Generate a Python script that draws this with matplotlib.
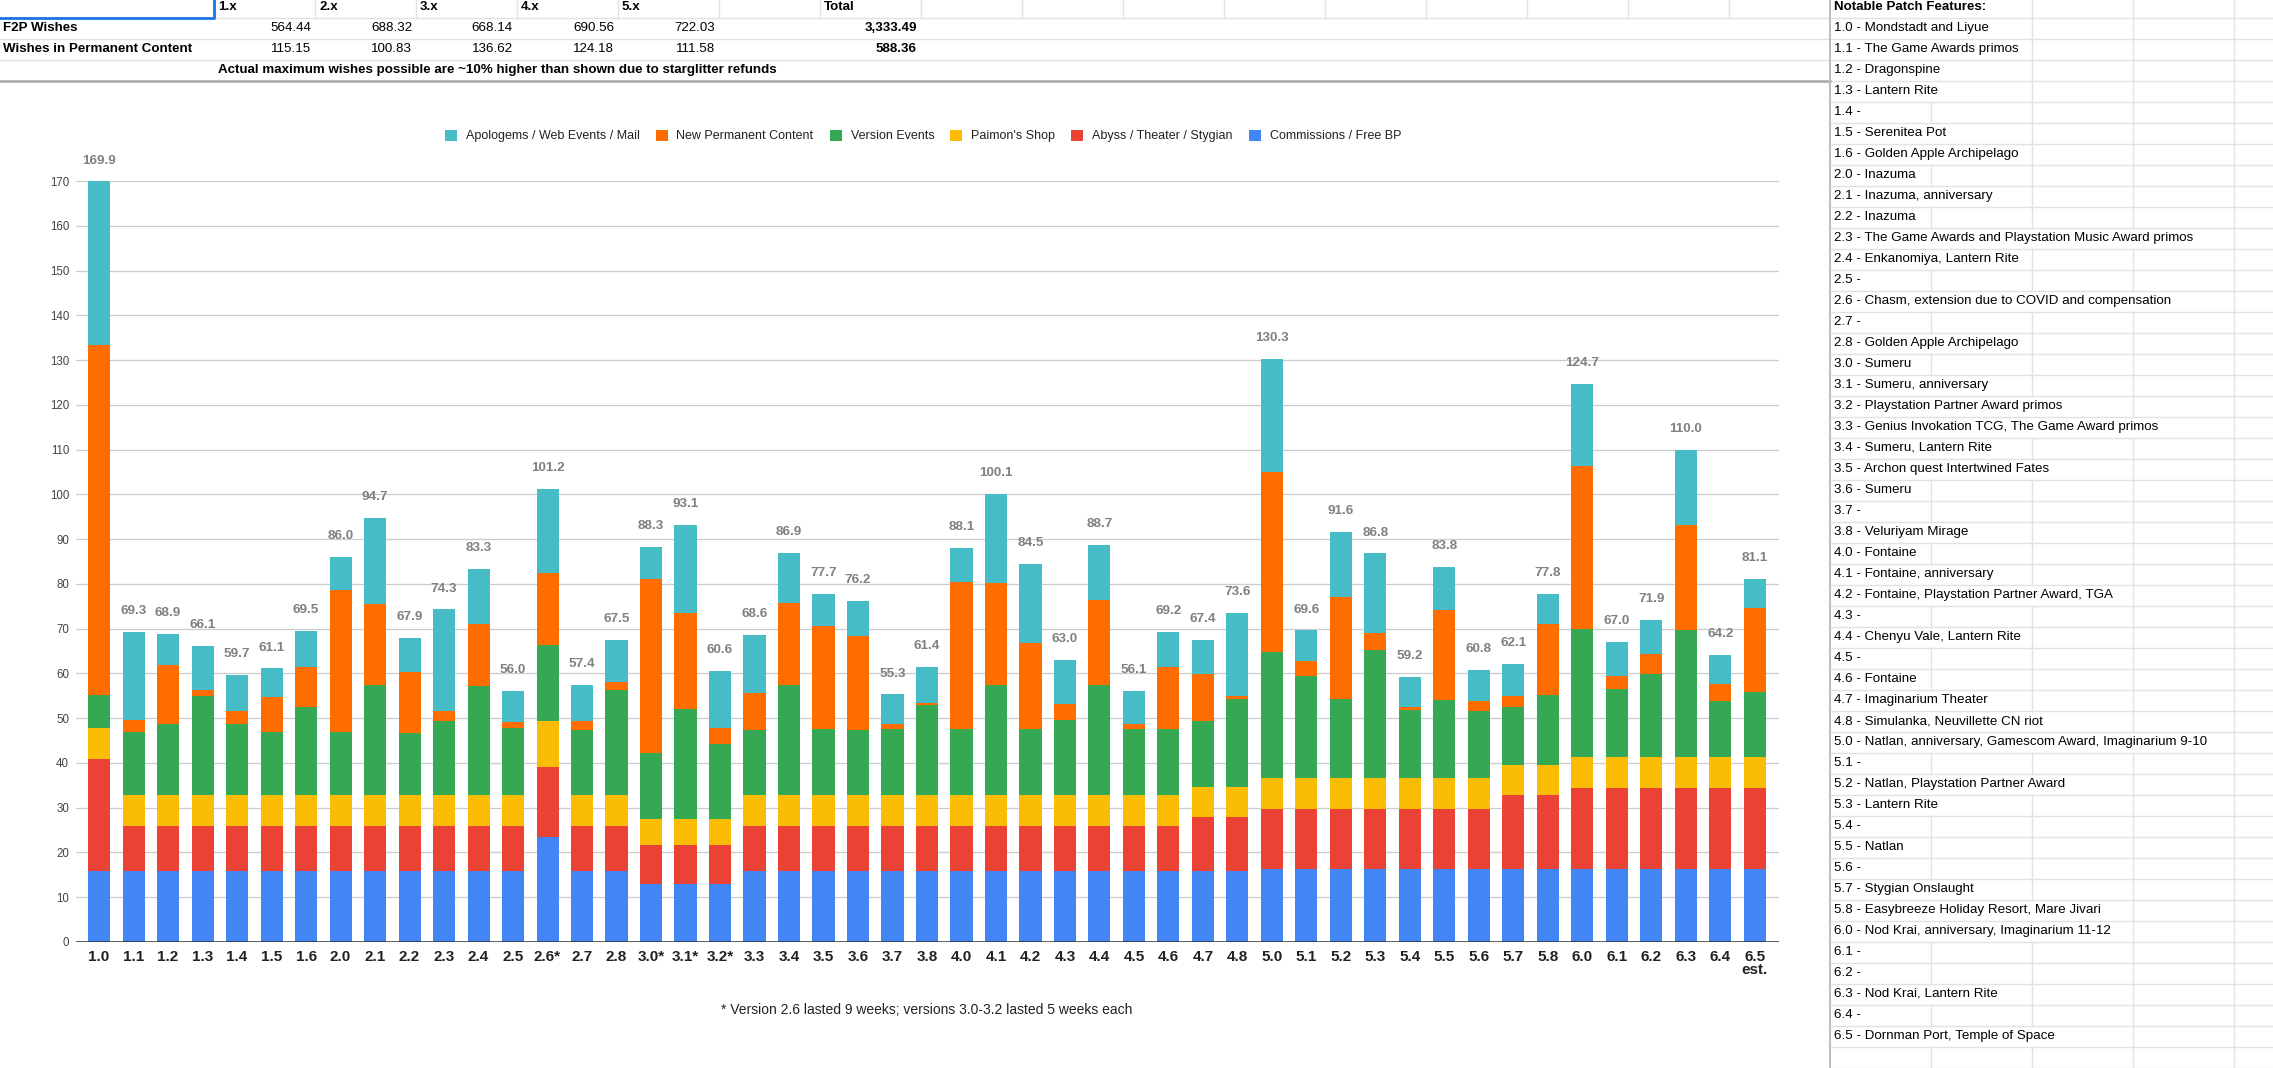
import matplotlib
matplotlib.use('Agg')
import matplotlib.pyplot as plt
from matplotlib.patches import Rectangle

plt.rcParams['font.family'] = ['Liberation Sans', 'DejaVu Sans']

# ---- chart data (wishes per version, stacked bottom -> top) ----
versions = ['1.0', '1.1', '1.2', '1.3', '1.4', '1.5', '1.6',
            '2.0', '2.1', '2.2', '2.3', '2.4', '2.5', '2.6*', '2.7', '2.8',
            '3.0*', '3.1*', '3.2*', '3.3', '3.4', '3.5', '3.6', '3.7', '3.8',
            '4.0', '4.1', '4.2', '4.3', '4.4', '4.5', '4.6', '4.7', '4.8',
            '5.0', '5.1', '5.2', '5.3', '5.4', '5.5', '5.6', '5.7', '5.8',
            '6.0', '6.1', '6.2', '6.3', '6.4', '6.5\nest.']

commissions = [15.75, 15.75, 15.75, 15.75, 15.75, 15.75, 15.75,
               15.75, 15.75, 15.75, 15.75, 15.75, 15.75, 23.4, 15.75, 15.75,
               13.0, 13.0, 13.0, 15.75, 15.75, 15.75, 15.75, 15.75, 15.75,
               15.75, 15.75, 15.75, 15.75, 15.75, 15.75, 15.75, 15.75, 15.75,
               16.2, 16.2, 16.2, 16.2, 16.2, 16.2, 16.2, 16.2, 16.2,
               16.2, 16.2, 16.2, 16.2, 16.2, 16.2]
abyss = [25.1, 10.1, 10.1, 10.1, 10.1, 10.1, 10.1,
         10.1, 10.1, 10.1, 10.1, 10.1, 10.1, 15.6, 10.1, 10.1,
         8.7, 8.7, 8.7, 10.1, 10.1, 10.1, 10.1, 10.1, 10.1,
         10.1, 10.1, 10.1, 10.1, 10.1, 10.1, 10.1, 12.15, 12.15,
         13.6, 13.6, 13.6, 13.6, 13.6, 13.6, 13.6, 16.6, 16.6,
         18.2, 18.2, 18.2, 18.2, 18.2, 18.2]
shop = [6.9, 7.0, 7.0, 7.0, 7.0, 7.0, 7.0,
        7.0, 7.0, 7.0, 7.0, 7.0, 7.0, 10.3, 7.0, 7.0,
        5.7, 5.7, 5.7, 7.0, 7.0, 7.0, 7.0, 7.0, 7.0,
        7.0, 7.0, 7.0, 7.0, 7.0, 7.0, 7.0, 6.8, 6.8,
        6.9, 6.9, 6.9, 6.9, 6.9, 6.9, 6.9, 6.7, 6.7,
        6.9, 6.9, 6.9, 6.9, 6.9, 6.9]
events = [7.45, 14.05, 15.85, 22.05, 15.95, 14.15, 19.55,
          14.15, 24.45, 13.75, 16.45, 24.25, 15.05, 17.0, 14.45, 23.35,
          14.8, 24.6, 16.8, 14.45, 24.45, 14.65, 14.45, 14.65, 20.05,
          14.65, 24.45, 14.65, 16.75, 24.45, 14.65, 14.65, 14.6, 19.6,
          28.0, 22.8, 17.6, 28.5, 15.2, 17.3, 14.9, 13.1, 15.7,
          28.6, 15.2, 18.5, 28.4, 12.6, 14.6]
permanent = [78.1, 2.8, 13.1, 1.5, 2.7, 7.7, 9.1,
             31.7, 18.1, 13.7, 2.2, 13.9, 1.2, 16.1, 2.0, 1.8,
             39.0, 21.4, 3.6, 8.3, 18.4, 23.0, 21.1, 1.2, 0.5,
             33.0, 23.0, 19.4, 3.5, 19.0, 1.2, 14.0, 10.5, 0.6,
             40.3, 3.2, 22.7, 3.8, 0.7, 20.2, 2.3, 2.4, 15.8,
             36.5, 3.0, 4.5, 23.5, 3.8, 18.8]
apologems = [36.6, 19.6, 7.1, 9.7, 8.2, 6.4, 8.0,
             7.3, 19.3, 7.6, 22.8, 12.3, 6.9, 18.8, 8.1, 9.5,
             7.1, 19.7, 12.8, 13.0, 11.2, 7.2, 7.8, 6.6, 8.0,
             7.6, 19.8, 17.6, 9.9, 12.4, 7.4, 7.7, 7.6, 18.7,
             25.3, 6.9, 14.6, 17.8, 6.6, 9.6, 6.9, 7.1, 6.8,
             18.3, 7.5, 7.6, 16.8, 6.5, 6.4]

series = [commissions, abyss, shop, events, permanent, apologems]
series_names = ['Commissions / Free BP', 'Abyss / Theater / Stygian', "Paimon's Shop",
                'Version Events', 'New Permanent Content', 'Apologems / Web Events / Mail']
colors = ['#4285F4', '#EA4335', '#FBBC04', '#34A853', '#FF6D01', '#46BDC6']

# ---- spreadsheet table on top ----
table_cols = ['1.x', '2.x', '3.x', '4.x', '5.x']
f2p_wishes = [564.44, 688.32, 668.14, 690.56, 722.03]
perm_wishes = [115.15, 100.83, 136.62, 124.18, 111.58]
table_note = 'Actual maximum wishes possible are ~10% higher than shown due to starglitter refunds'
footnote = '* Version 2.6 lasted 9 weeks; versions 3.0-3.2 lasted 5 weeks each'

features = [
    '1.0 - Mondstadt and Liyue',
    '1.1 - The Game Awards primos',
    '1.2 - Dragonspine',
    '1.3 - Lantern Rite',
    '1.4 -',
    '1.5 - Serenitea Pot',
    '1.6 - Golden Apple Archipelago',
    '2.0 - Inazuma',
    '2.1 - Inazuma, anniversary',
    '2.2 - Inazuma',
    '2.3 - The Game Awards and Playstation Music Award primos',
    '2.4 - Enkanomiya, Lantern Rite',
    '2.5 -',
    '2.6 - Chasm, extension due to COVID and compensation',
    '2.7 -',
    '2.8 - Golden Apple Archipelago',
    '3.0 - Sumeru',
    '3.1 - Sumeru, anniversary',
    '3.2 - Playstation Partner Award primos',
    '3.3 - Genius Invokation TCG, The Game Award primos',
    '3.4 - Sumeru, Lantern Rite',
    '3.5 - Archon quest Intertwined Fates',
    '3.6 - Sumeru',
    '3.7 -',
    '3.8 - Veluriyam Mirage',
    '4.0 - Fontaine',
    '4.1 - Fontaine, anniversary',
    '4.2 - Fontaine, Playstation Partner Award, TGA',
    '4.3 -',
    '4.4 - Chenyu Vale, Lantern Rite',
    '4.5 -',
    '4.6 - Fontaine',
    '4.7 - Imaginarium Theater',
    '4.8 - Simulanka, Neuvillette CN riot',
    '5.0 - Natlan, anniversary, Gamescom Award, Imaginarium 9-10',
    '5.1 -',
    '5.2 - Natlan, Playstation Partner Award',
    '5.3 - Lantern Rite',
    '5.4 -',
    '5.5 - Natlan',
    '5.6 -',
    '5.7 - Stygian Onslaught',
    '5.8 - Easybreeze Holiday Resort, Mare Jivari',
    '6.0 - Nod Krai, anniversary, Imaginarium 11-12',
    '6.1 -',
    '6.2 -',
    '6.3 - Nod Krai, Lantern Rite',
    '6.4 -',
    '6.5 - Dornman Port, Temple of Space',
]

# ---- figure / sheet layout (pixel coordinates) ----
W, H = 2273, 1068
COL0 = 214          # right edge of column A
COL_W = 101
ROW_H = 21
FROZEN_X = 1830     # chart right edge / feature list column
CELL_FS = 9.6
GRID_C = '#e2e2e2'

fig = plt.figure(figsize=(W / 100, H / 100), dpi=100)
fig.patch.set_facecolor('white')

sheet = fig.add_axes([0, 0, 1, 1])
sheet.set_xlim(0, W)
sheet.set_ylim(H, 0)
sheet.axis('off')
sheet.set_zorder(0)


def row_top(k):
    return -3.5 + ROW_H * k


def row_mid(k):
    return row_top(k) + ROW_H / 2


top_col_lines = [COL0 + COL_W * i for i in range(16)]
right_col_lines = [FROZEN_X + COL_W * i for i in range(1, 5)]

# horizontal cell lines
for k in range(1, 4):
    sheet.plot([0, FROZEN_X], [row_top(k), row_top(k)], color=GRID_C, lw=1, zorder=1)
for k in range(1, 52):
    sheet.plot([FROZEN_X, W], [row_top(k), row_top(k)], color=GRID_C, lw=1, zorder=1)

# texts of the small table
left_texts = {}   # row -> left aligned texts that may overflow into next cells
for i, c in enumerate(table_cols):
    sheet.text(COL0 + COL_W * i + 4, row_mid(0), c, fontsize=CELL_FS, fontweight='bold',
               va='center', ha='left', zorder=4)
sheet.text(COL0 + COL_W * 6 + 4, row_mid(0), 'Total', fontsize=CELL_FS, fontweight='bold',
           va='center', ha='left', zorder=4)

rows = [('F2P Wishes', f2p_wishes), ('Wishes in Permanent Content', perm_wishes)]
for r, (name, vals) in enumerate(rows, start=1):
    sheet.text(3, row_mid(r), name, fontsize=CELL_FS, fontweight='bold', va='center', zorder=4)
    for i, v in enumerate(vals):
        sheet.text(COL0 + COL_W * (i + 1) - 4, row_mid(r), f'{v:.2f}', fontsize=CELL_FS,
                   ha='right', va='center', zorder=4)
    sheet.text(COL0 + COL_W * 7 - 4, row_mid(r), f'{sum(vals):,.2f}', fontsize=CELL_FS,
               fontweight='bold', ha='right', va='center', zorder=4)

note = sheet.text(COL0 + 4, row_mid(3), table_note, fontsize=CELL_FS, fontweight='bold',
                  va='center', zorder=4)
left_texts[3] = [note]

# feature list on the right
sheet.text(FROZEN_X + 4, row_mid(0), 'Notable Patch Features:', fontsize=CELL_FS,
           fontweight='bold', va='center', zorder=4)
for k, f in enumerate(features, start=1):
    t = sheet.text(FROZEN_X + 4, row_mid(k), f, fontsize=CELL_FS, va='center', zorder=4)
    left_texts[k] = [t]

# chart background covers the cells
sheet.add_patch(Rectangle((0, row_top(4) + 1), FROZEN_X, H, facecolor='white',
                          edgecolor='none', zorder=2))
sheet.plot([0, FROZEN_X], [row_top(4), row_top(4)], color='#a8a8a8', lw=1.8, zorder=3)
sheet.plot([FROZEN_X, FROZEN_X], [0, H], color='#bdbdbd', lw=1.4, zorder=3)
# selected cell A1
sheet.plot([0, COL0, COL0], [row_top(1), row_top(1), 0], color='#1a73e8', lw=2, zorder=3)

# ---- the chart ----
ax = fig.add_axes([76 / W, 1 - 942 / H, (1779 - 76) / W, (942 - 181) / H])
ax.set_zorder(1)
ax.patch.set_alpha(0)

x = list(range(len(versions)))
bottom = [0.0] * len(versions)
bars = []
for vals, name, col in zip(series, series_names, colors):
    b = ax.bar(x, vals, width=0.64, bottom=bottom, color=col, label=name, zorder=2)
    bars.append(b)
    bottom = [a + v for a, v in zip(bottom, vals)]

for xi, tot in zip(x, bottom):
    ax.annotate(f'{tot:.1f}', (xi, tot), xytext=(0, 15), textcoords='offset points',
                ha='center', va='center', fontsize=9.7, fontweight='bold',
                color='#808080', annotation_clip=False)

ax.set_xlim(-0.67, len(versions) - 1 + 0.70)
ax.set_ylim(0, 170)
ax.set_yticks(range(0, 171, 10))
ax.set_xticks(x, versions)
ax.tick_params(axis='y', length=0, pad=5, labelsize=8.3, labelcolor='#444444')
ax.tick_params(axis='x', length=0, pad=5.5, labelsize=11, labelcolor='#222222')
for lab in ax.get_xticklabels():
    lab.set_fontweight('bold')
    lab.set_linespacing(0.95)
ax.yaxis.grid(True, color='#cccccc', lw=0.9)
ax.set_axisbelow(True)
for s in ax.spines.values():
    s.set_visible(False)
ax.axhline(0, color='#333333', lw=1.1, zorder=3)

fig.legend([b for b in bars[::-1]], series_names[::-1], loc='center',
           bbox_to_anchor=(923 / W, 1 - 136 / H), ncol=6, frameon=False, fontsize=9,
           handlelength=0.96, handleheight=0.96, handletextpad=0.72, columnspacing=1.28,
           borderpad=0, borderaxespad=0, labelcolor='#222222')

sheet.text(927, 1010, footnote, fontsize=10, color='#222222', ha='center', va='center', zorder=4)

# ---- vertical cell lines, hidden where text overflows into the next cell ----
fig.canvas.draw()
renderer = fig.canvas.get_renderer()


def text_end(k):
    ends = [t.get_window_extent(renderer).x1 for t in left_texts.get(k, [])]
    return max(ends) if ends else -1


for k in range(0, 4):
    end = text_end(k)
    for cx in top_col_lines:
        if k == 0 and cx == COL0:
            continue
        if cx > end + 2:
            sheet.plot([cx, cx], [max(row_top(k), 0), row_top(k + 1)], color=GRID_C, lw=1, zorder=1)
for k in range(0, 51):
    end = text_end(k) if k >= 1 else FROZEN_X + 4 + 150
    for cx in right_col_lines:
        if cx > end + 2:
            sheet.plot([cx, cx], [max(row_top(k), 0), min(row_top(k + 1), H)], color=GRID_C,
                       lw=1, zorder=1)

fig.savefig('out.png', dpi=100)
